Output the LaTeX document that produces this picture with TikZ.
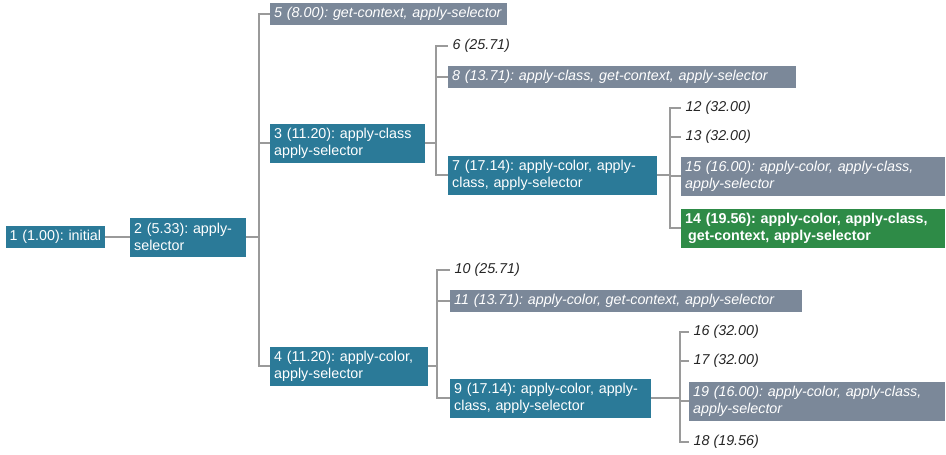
\documentclass[tikz,border=0pt]{standalone}
\usepackage{fontspec}
\setmainfont{Liberation Sans}
\frenchspacing
\hyphenpenalty=10000
\exhyphenpenalty=10000
\definecolor{boxblue}{HTML}{2B7A98}
\definecolor{boxgray}{HTML}{7B8899}
\definecolor{boxgreen}{HTML}{2E8B47}
\definecolor{edgegray}{HTML}{9A9A9A}
\tikzset{
  state/.style={anchor=west, fill=boxblue, text=white, inner xsep=4pt, inner ysep=3pt,
    align=left, minimum height=22pt, font=\fontsize{14.3}{17}\selectfont},
  tall/.style={minimum height=39pt},
  pruned/.style={state, fill=boxgray, font=\fontsize{14.3}{17}\selectfont\itshape},
  best/.style={state, fill=boxgreen, font=\fontsize{14.3}{17}\selectfont\bfseries},
  leaf/.style={anchor=west, inner xsep=4.5pt, inner ysep=0pt, text=black!85,
    font=\fontsize{14.3}{17}\selectfont\itshape},
  edge/.style={draw=edgegray, line width=2pt}
}
\begin{document}
\begin{tikzpicture}[x=1pt,y=-1pt]
\useasboundingbox (0,0) rectangle (946,455);
% root and first split
\node[state, inner xsep=3.5pt, text width=92pt] (n1) at (6,237) {1~(1.00):~initial};
\node[state, tall, text width=108pt] (n2) at (130,237) {2 (5.33): apply-\\selector};
\node[pruned, text width=229pt] (n5) at (270,14) {5~(8.00):~get-context,~apply-selector};
\node[state, tall, text width=147pt] (n3) at (270,143) {3 (11.20): apply-class\\apply-selector};
\node[state, tall, text width=150pt] (n4) at (270,366) {4 (11.20): apply-color,\\apply-selector};
% under 3
\node[leaf] (n6) at (448,46) {6 (25.71)};
\node[pruned, text width=340pt] (n8) at (448,77) {8 (13.71): apply-class, get-context, apply-selector};
\node[state, tall, text width=201pt] (n7) at (448,175) {7 (17.14): apply-color, apply-\\class, apply-selector};
\node[leaf] (n12) at (681,108) {12 (32.00)};
\node[leaf] (n13) at (681,137) {13 (32.00)};
\node[pruned, tall, text width=256pt] (n15) at (681,176) {15 (16.00): apply-color, apply-class,\\apply-selector};
\node[best, tall, text width=256pt] (n14) at (681,228) {14 (19.56): apply-color, apply-class,\\\hspace*{3pt}get-context, apply-selector};
% under 4
\node[leaf] (n10) at (450,270) {10 (25.71)};
\node[pruned, text width=344pt] (n11) at (450,301) {11 (13.71): apply-color, get-context, apply-selector};
\node[state, tall, text width=193pt] (n9) at (450,398) {9 (17.14): apply-color, apply-\\class, apply-selector};
\node[leaf] (n16) at (689,332) {16 (32.00)};
\node[leaf] (n17) at (689,361) {17 (32.00)};
\node[pruned, tall, text width=248pt] (n19) at (689,401) {19 (16.00): apply-color, apply-class,\\apply-selector};
\node[leaf] (n18) at (689,442) {18 (19.56)};
% junctions
\coordinate (j2) at (259,237);
\coordinate (j3) at (436,143);
\coordinate (j4) at (437,366);
\coordinate (j7) at (670,175);
\coordinate (j9) at (680,398);
% edges
\draw[edge] (n1) -- (n2);
\foreach \c in {n5,n3,n4} \draw[edge] (n2.east) -- (j2) |- (\c.west);
\foreach \c in {n6,n8,n7} \draw[edge] (n3.east) -- (j3) |- (\c.west);
\foreach \c in {n10,n11,n9} \draw[edge] (n4.east) -- (j4) |- (\c.west);
\foreach \c in {n12,n13,n15,n14} \draw[edge] (n7.east) -- (j7) |- (\c.west);
\foreach \c in {n16,n17,n19,n18} \draw[edge] (n9.east) -- (j9) |- (\c.west);
\end{tikzpicture}
\end{document}
